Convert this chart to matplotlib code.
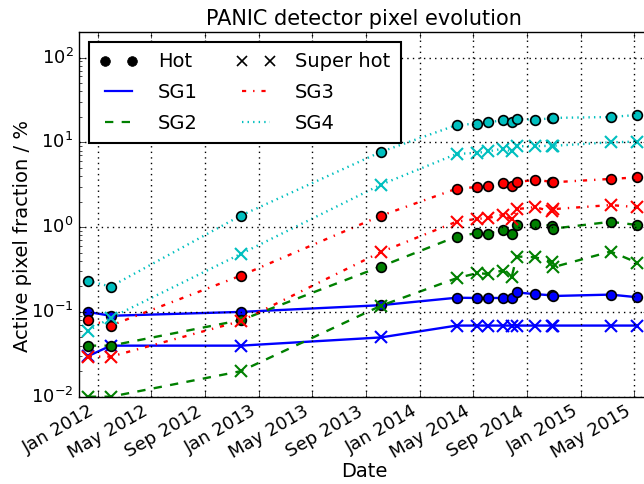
import datetime as dt
import matplotlib
matplotlib.use('Agg')
import matplotlib.pyplot as plt
import matplotlib.dates as mdates

# measurement dates
dates = ['2011-12-10', '2012-01-31', '2012-11-21', '2013-10-04', '2014-03-25',
         '2014-05-10', '2014-06-04', '2014-07-07', '2014-07-28', '2014-08-08',
         '2014-09-18', '2014-10-27', '2014-10-30', '2015-03-09', '2015-05-08']

# hot / super hot pixel fractions (%) per subgroup
sg1_hot = [0.10, 0.09, 0.10, 0.12, 0.147, 0.146, 0.146, 0.146, 0.146, 0.17,
           0.162, 0.157, 0.154, 0.16, 0.149]
sg1_super = [0.03, 0.04, 0.04, 0.05, 0.069, 0.069, 0.069, 0.069, 0.069, 0.069,
             0.069, 0.069, 0.069, 0.069, 0.069]
sg2_hot = [0.04, 0.04, 0.08, 0.343, 0.774, 0.85, 0.84, 0.92, 0.84, 1.07,
           1.09, 1.04, 0.96, 1.155, 1.06]
sg2_super = [0.01, 0.01, 0.02, 0.118, 0.25, 0.286, 0.281, 0.307, 0.261, 0.45,
             0.442, 0.393, 0.337, 0.515, 0.382]
sg3_hot = [0.0805, 0.069, 0.268, 1.36, 2.84, 2.97, 3.08, 3.32, 3.03, 3.40,
           3.60, 3.43, 3.38, 3.70, 3.86]
sg3_super = [0.0297, 0.0297, 0.078, 0.507, 1.16, 1.25, 1.28, 1.40, 1.24, 1.63,
             1.72, 1.53, 1.63, 1.82, 1.72]
sg4_hot = [0.232, 0.199, 1.37, 7.7, 16.0, 16.6, 17.2, 18.2, 17.5, 18.7,
           18.5, 19.2, 19.4, 19.9, 21.0]
sg4_super = [0.0597, 0.085, 0.484, 3.16, 7.3, 7.5, 7.8, 8.4, 7.8, 9.0,
             9.0, 9.1, 9.1, 10.0, 10.2]

names = ['SG1', 'SG2', 'SG3', 'SG4']
colors = ['b', 'g', 'r', 'c']
styles = ['-', '--', '-.', ':']

plt.style.use('classic')
plt.rcParams['font.family'] = ['DejaVu Sans']
plt.rcParams['font.size'] = 14

t = [dt.datetime.strptime(d, '%Y-%m-%d') for d in dates]
hot = [sg1_hot, sg2_hot, sg3_hot, sg4_hot]
sup = [sg1_super, sg2_super, sg3_super, sg4_super]

fig = plt.figure(figsize=(6.44, 4.84), dpi=100, facecolor='white')
ax = fig.add_axes([79 / 644, 1 - 396.7 / 484, 570 / 644, 364.7 / 484])
ax.set_facecolor('white')

lines = []
for i in range(4):
    l, = ax.plot(t, hot[i], color=colors[i], ls=styles[i], lw=1.7,
                 marker='o', ms=7, mfc=colors[i], mec='k', mew=1.2)
    ax.plot(t, sup[i], color=colors[i], ls=styles[i], lw=1.7,
            marker='x', ms=8, mec=colors[i], mew=1.5)
    lines.append(l)

ax.set_yscale('log')
ax.set_ylim(1e-2, 2e2)
ax.set_xlim(dt.datetime(2011, 11, 20), dt.datetime(2015, 6, 4))
ax.xaxis.set_major_locator(mdates.MonthLocator(bymonth=[1, 5, 9]))
ax.xaxis.set_major_formatter(mdates.DateFormatter('%b %Y'))
ax.tick_params(labelsize=13)
for lab in ax.get_xticklabels():
    lab.set_rotation(30)
    lab.set_ha('right')
ax.grid(True, color='k', ls=':', lw=1.0)

ax.set_title('PANIC detector pixel evolution', fontsize=15)
ax.set_xlabel('Date', fontsize=14)
ax.xaxis.set_label_coords(0.5, -0.178)
ax.set_ylabel('Active pixel fraction / %', fontsize=14)
ax.yaxis.set_label_coords(-0.082, 0.44)

h_hot, = ax.plot([], [], ls='none', marker='o', color='k', ms=7)
h_sup, = ax.plot([], [], ls='none', marker='x', color='k', ms=7, mew=1.2)
proxies = [h_hot]
for i in (0, 1):
    p, = ax.plot([], [], color=colors[i], ls=styles[i], lw=1.6)
    proxies.append(p)
proxies.append(h_sup)
for i in (2, 3):
    p, = ax.plot([], [], color=colors[i], ls=styles[i], lw=1.6)
    proxies.append(p)
labels = ['Hot', 'SG1', 'SG2', 'Super hot', 'SG3', 'SG4']
leg = ax.legend(proxies, labels, ncol=2, loc='upper left', numpoints=2,
                fontsize=14, bbox_to_anchor=(0.0, 1.0), borderaxespad=0.5,
                borderpad=0.55, columnspacing=2.0, handletextpad=1.0,
                labelspacing=0.6)
leg.get_frame().set_linewidth(1.5)

fig.savefig('out.png', dpi=100, facecolor='white')
